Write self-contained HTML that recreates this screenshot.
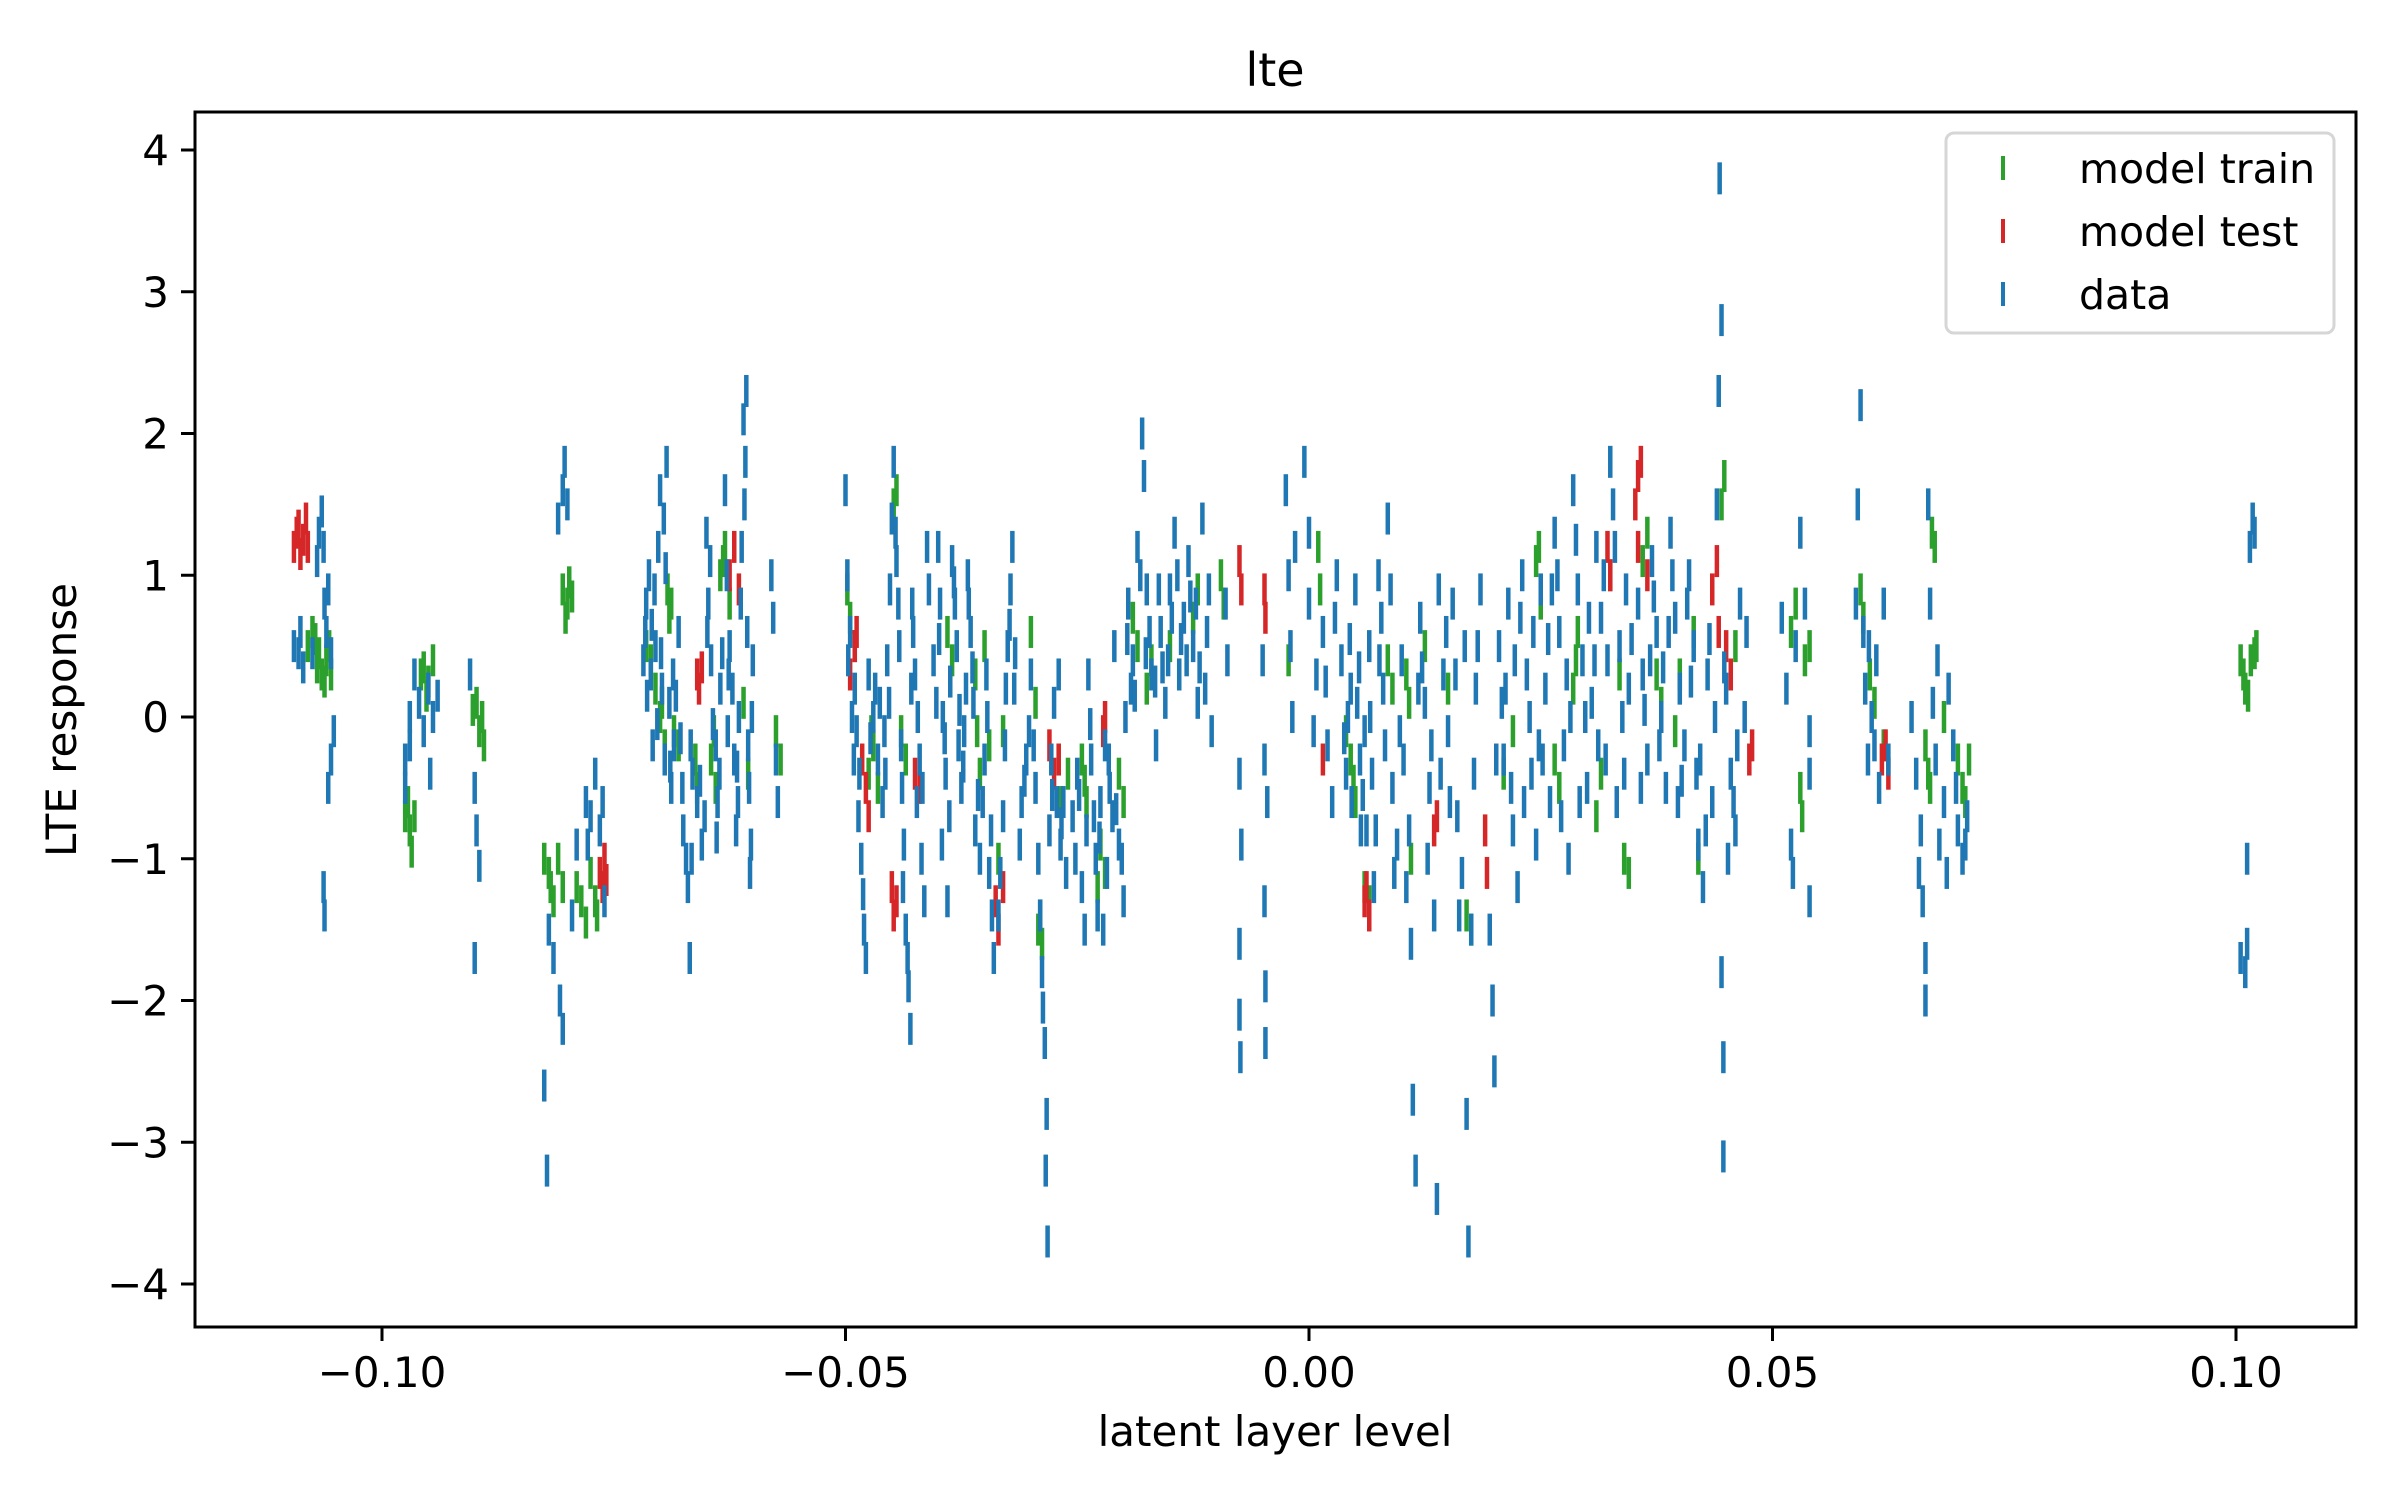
<!DOCTYPE html>
<html><head><meta charset="utf-8"><title>lte</title>
<style>
html,body{margin:0;padding:0;background:#fff;}
svg{display:block;font-family:"DejaVu Sans","Liberation Sans",sans-serif;}
</style></head>
<body>
<svg id="chart" width="2400" height="1500" viewBox="0 0 2400 1500" xmlns="http://www.w3.org/2000/svg">
<rect width="2400" height="1500" fill="#fff"/>
<g id="marks"></g>
<g id="axes"></g>
</svg>
<script>
const xTicks = [-0.10, -0.05, 0.00, 0.05, 0.10];
const xTickLabels = ["\u22120.10", "\u22120.05", "0.00", "0.05", "0.10"];
const yTicks = [4, 3, 2, 1, 0, -1, -2, -3, -4];
const yTickLabels = ["4", "3", "2", "1", "0", "\u22121", "\u22122", "\u22123", "\u22124"];
const seriesNames = ["model train", "model test", "data"];

const trainPoints = [
[-0.108,0.5],[-0.1075,0.6],[-0.107,0.35],[-0.1068,0.45],[-0.1065,0.3],[-0.106,0.4],[-0.1057,0.5],[-0.1055,0.3],[-0.1072,0.55],[-0.1062,0.25],
[-0.0975,-0.7],[-0.097,-0.8],[-0.0968,-0.95],[-0.0965,-0.7],[-0.0958,0.3],[-0.0955,0.35],[-0.095,0.25],[-0.0945,0.4],[-0.0972,-0.6],[-0.0952,0.15],
[-0.0902,0.05],[-0.0898,0.1],[-0.0895,-0.1],[-0.0892,0.0],[-0.089,-0.2],
[-0.0825,-1.0],[-0.082,-1.1],[-0.0815,-1.3],[-0.081,-1.0],[-0.0805,-1.2],[-0.0805,0.9],[-0.08,0.8],[-0.0798,0.95],[-0.0795,0.85],[-0.079,-1.2],[-0.0785,-1.3],[-0.0775,-1.1],[-0.077,-1.3],[-0.0768,-1.4],[-0.0818,-1.2],[-0.0802,0.7],[-0.078,-1.45],
[-0.0715,0.5],[-0.071,0.4],[-0.0705,0.2],[-0.07,0.0],[-0.0695,-0.2],[-0.0692,0.9],[-0.069,0.7],[-0.0685,-0.1],[-0.068,-0.2],[-0.0662,-0.3],[-0.066,-0.5],[-0.0645,-0.3],[-0.064,-0.5],[-0.0635,1.0],[-0.063,1.2],[-0.0625,0.8],[-0.061,0.1],[-0.0605,-0.4],[-0.0575,-0.1],[-0.057,-0.3],[-0.0698,0.1],[-0.0688,0.8],[-0.0642,-0.1],[-0.0632,1.1],
[-0.0498,0.9],[-0.0495,0.7],[-0.049,0.5],[-0.0475,-0.4],[-0.047,-0.2],[-0.0465,-0.5],[-0.0448,1.5],[-0.0445,1.6],[-0.044,-0.1],[-0.0435,-0.3],[-0.0472,-0.1],
[-0.039,0.6],[-0.0385,0.4],[-0.036,0.3],[-0.0358,-0.1],[-0.035,0.5],[-0.0345,-0.2],[-0.0335,-1.0],[-0.033,-0.1],[-0.03,0.6],[-0.0295,0.1],[-0.029,-1.4],[-0.0288,-1.6],[-0.027,-0.3],[-0.0268,-0.6],[-0.026,-0.4],[-0.0355,-0.4],[-0.0292,-1.5],
[-0.0245,-0.3],[-0.024,-0.6],[-0.0225,-0.9],[-0.022,-1.1],[-0.0205,-0.4],[-0.02,-0.6],[-0.019,0.7],[-0.0185,0.5],[-0.0175,0.2],[-0.017,0.4],[-0.015,0.5],[-0.014,0.3],[-0.0125,0.7],[-0.012,0.9],[-0.0095,1.0],[-0.0092,0.8],[-0.0228,-1.2],[-0.0242,-0.45],
[-0.0022,0.4],[0.001,1.2],[0.0012,0.9],
[0.004,-0.1],[0.0045,-0.3],[0.005,-0.6],[0.006,-1.2],[0.0065,-1.3],[0.0085,0.4],[0.009,0.2],[0.0105,0.3],[0.011,-1.0],[0.0125,0.5],[0.015,0.2],[0.017,-1.4],[0.0175,-1.5],[0.0048,-0.45],[0.0108,0.1],
[0.021,-0.4],[0.022,-0.1],[0.0245,1.1],[0.025,0.8],[0.0265,-0.3],[0.027,-0.5],[0.0285,0.2],[0.029,0.6],[0.031,-0.7],[0.0315,-0.4],[0.0325,1.0],[0.0335,0.3],[0.034,-1.0],[0.0345,-1.1],[0.0248,1.2],[0.0288,0.4],
[0.036,1.1],[0.0365,1.3],[0.0375,0.3],[0.038,0.1],[0.0395,-0.1],[0.04,0.3],[0.0415,0.6],[0.042,-1.0],[0.0445,1.5],[0.0448,1.7],[0.046,0.5],
[0.052,0.6],[0.0525,0.8],[0.053,-0.5],[0.0535,0.4],[0.054,0.5],[0.0532,-0.7],
[0.0595,0.9],[0.0598,0.7],[0.0605,0.3],[0.061,0.1],[0.062,-0.2],[0.0665,-0.2],[0.067,-0.5],[0.0672,1.3],[0.0675,1.2],[0.0685,0.0],[0.07,-0.3],[0.0705,-0.5],[0.0712,-0.3],[0.0668,-0.4],[0.0708,-0.6],
[0.1005,0.4],[0.101,0.2],[0.1013,0.15],[0.1016,0.4],[0.102,0.45],[0.1022,0.5],[0.1008,0.3]
];

const testPoints = [
[-0.1095,1.2],[-0.1092,1.3],[-0.109,1.35],[-0.1088,1.15],[-0.1085,1.25],[-0.1082,1.4],[-0.108,1.2],
[-0.0765,-1.1],[-0.0762,-1.2],[-0.076,-1.0],[-0.0758,-1.15],
[-0.066,0.3],[-0.0658,0.2],[-0.0655,0.35],[-0.0625,1.0],[-0.062,1.2],[-0.0615,0.9],
[-0.0495,0.3],[-0.049,0.5],[-0.0488,0.6],[-0.0482,-0.3],[-0.0478,-0.5],[-0.0475,-0.7],[-0.045,-1.2],[-0.0448,-1.4],[-0.0445,-1.3],[-0.0425,-0.4],[-0.042,-0.5],
[-0.0338,-1.3],[-0.0335,-1.5],[-0.033,-1.2],[-0.028,-0.2],[-0.0275,-0.4],[-0.027,-0.3],[-0.0222,-0.1],[-0.022,0.0],
[-0.0075,1.1],[-0.0073,0.9],[-0.0048,0.9],[-0.0047,0.7],
[0.0015,-0.3],[0.006,-1.3],[0.0062,-1.2],[0.0065,-1.4],[0.0135,-0.8],[0.0138,-0.7],[0.019,-0.8],[0.0192,-1.1],
[0.0322,1.2],[0.0325,1.0],[0.0355,1.7],[0.0352,1.5],[0.0358,1.8],
[0.0355,1.2],[0.0365,1.0],[0.0435,0.9],[0.044,1.1],[0.0442,0.6],[0.045,0.5],[0.0455,0.3],[0.0475,-0.3],[0.0478,-0.2],
[0.0622,-0.2],[0.0625,-0.4],[0.0618,-0.3]
];

const dataPoints = [
[-0.1095,0.5],[-0.109,0.45],[-0.1088,0.6],[-0.1085,0.35],[-0.1075,0.45],[-0.107,1.1],[-0.1068,1.3],[-0.1065,1.45],[-0.1063,1.2],[-0.1062,0.8],[-0.106,0.6],[-0.1058,0.9],[-0.1063,-1.2],[-0.1062,-1.4],[-0.1058,-0.5],[-0.1055,-0.3],[-0.1052,-0.1],[-0.1055,0.45],
[-0.0975,-0.3],[-0.0975,-0.5],[-0.097,0.0],[-0.097,-0.2],[-0.0965,0.3],[-0.096,0.1],[-0.0955,-0.1],[-0.095,0.2],[-0.0948,-0.4],[-0.0945,0.0],[-0.094,0.15],
[-0.0905,0.3],[-0.09,-0.5],[-0.0898,-0.8],[-0.0895,-1.05],[-0.09,-1.7],
[-0.0825,-2.6],[-0.0822,-3.2],[-0.082,-1.5],[-0.0815,-1.7],[-0.081,1.4],[-0.0805,1.6],[-0.0803,1.8],[-0.08,1.5],[-0.0808,-2.0],[-0.0805,-2.2],[-0.0795,-1.4],[-0.079,-0.9],[-0.078,-0.6],[-0.0778,-0.9],[-0.0775,-0.7],[-0.077,-0.4],[-0.0765,-0.8],[-0.0762,-0.6],[-0.076,-1.3],
[-0.0718,0.4],[-0.0715,0.8],[-0.0712,1.0],[-0.071,0.3],[-0.0708,-0.2],[-0.0705,0.5],[-0.0702,1.2],[-0.07,1.6],[-0.0698,0.2],[-0.0695,-0.3],[-0.0693,1.8],[-0.069,0.1],[-0.0688,-0.5],[-0.0685,-0.2],[-0.068,0.6],[-0.0675,-0.8],[-0.067,-1.2],[-0.0668,-1.7],[-0.0665,-0.4],[-0.066,-0.6],[-0.0655,-0.9],[-0.065,1.3],[-0.0648,0.8],[-0.0645,0.4],[-0.064,-0.2],[-0.0638,-0.6],[-0.0635,0.2],[-0.063,1.6],[-0.0628,1.0],[-0.0625,0.5],[-0.062,-0.3],[-0.0618,-0.8],[-0.0615,0.0],[-0.0612,1.2],[-0.061,2.1],[-0.0608,1.8],[-0.0605,-0.2],[-0.0603,-1.1],[-0.06,0.4],[-0.058,1.0],[-0.0578,0.7],[-0.0575,-0.3],[-0.0573,-0.6],
[-0.0716,0.6],[-0.0706,0.9],[-0.0696,1.4],[-0.0686,0.3],[-0.0676,-0.5],[-0.0666,-1.0],[-0.0652,-0.7],[-0.0646,1.1],[-0.0636,-0.4],[-0.0626,0.3],[-0.0616,-0.6],[-0.0607,2.3],[-0.0602,-0.9],[-0.0606,0.6],
[-0.0714,0.15],[-0.0709,0.65],[-0.0703,-0.05],[-0.0699,0.45],[-0.0694,1.05],[-0.0689,-0.35],[-0.0683,0.15],[-0.0678,-0.15],[-0.0672,-1.0],[-0.0667,-0.2],[-0.0657,-0.45],[-0.0649,0.6],[-0.0643,-0.05],[-0.0639,-0.85],[-0.0633,0.45],[-0.0627,-0.1],[-0.0622,0.2],[-0.0617,-0.35],[-0.0613,0.8],[-0.0609,1.5],[-0.0604,-0.5],[-0.0601,0.0],
[-0.05,1.6],[-0.0498,1.0],[-0.0495,0.6],[-0.049,0.2],[-0.0488,-0.1],[-0.0485,-0.4],[-0.0483,-1.0],[-0.048,-1.5],[-0.0478,-1.7],[-0.0475,0.3],[-0.047,0.0],[-0.0465,-0.3],[-0.046,-0.6],[-0.0455,0.4],[-0.045,1.4],[-0.0448,1.8],[-0.0445,1.1],[-0.0442,0.5],[-0.044,-0.2],[-0.0438,-1.2],[-0.0435,-1.5],[-0.0432,-1.9],[-0.043,-2.2],[-0.0428,0.8],[-0.0425,0.3],[-0.042,-0.3],[-0.0418,-1.0],[-0.0415,-1.3],
[-0.0493,0.0],[-0.0486,-0.7],[-0.0468,0.2],[-0.0458,-0.1],[-0.0452,0.9],[-0.0446,1.3],[-0.0437,-0.9],[-0.0427,0.6],[-0.0422,0.0],[-0.0412,1.2],[-0.041,0.9],
[-0.0497,0.4],[-0.0491,-0.3],[-0.0481,-1.25],[-0.0473,-0.15],[-0.0463,0.1],[-0.0457,-0.4],[-0.0453,0.1],[-0.0443,0.8],[-0.0439,-0.5],[-0.0433,-1.7],[-0.0429,0.2],[-0.0423,-0.6],[-0.0417,-0.5],
[-0.0405,0.4],[-0.04,1.2],[-0.0398,0.8],[-0.0395,0.0],[-0.0392,-0.4],[-0.039,-1.3],[-0.0388,-0.7],[-0.0385,1.1],[-0.038,0.5],[-0.0378,-0.2],[-0.0375,-0.5],[-0.037,0.2],[-0.0368,1.0],[-0.0365,0.6],[-0.036,-0.8],[-0.0355,-1.0],[-0.035,-0.3],[-0.0348,0.3],[-0.0345,-1.1],[-0.034,-1.7],[-0.0335,-1.4],[-0.033,-0.7],[-0.0328,-0.2],[-0.0325,0.5],[-0.032,1.2],[-0.0318,0.2],[-0.031,-0.6],[-0.0305,-0.3],[-0.03,0.3],[-0.0295,-0.5],[-0.029,-1.4],[-0.0288,-1.8],[-0.0285,-2.3],[-0.0283,-2.8],[-0.0282,-3.7],[-0.028,-0.8],[-0.0278,-0.3],[-0.0275,0.1],[-0.027,0.3],[-0.0268,-0.9],[-0.0265,-0.6],
[-0.0402,0.1],[-0.0396,-0.9],[-0.0382,0.8],[-0.0372,-0.1],[-0.0362,0.1],[-0.0352,-0.6],[-0.0342,-1.4],[-0.0322,0.9],[-0.0312,-0.9],[-0.0302,-0.1],[-0.0292,-1.0],[-0.0284,-3.2],[-0.0272,-0.6],[-0.0262,-1.1],
[-0.0399,0.55],[-0.0393,-0.15],[-0.0387,0.25],[-0.0383,0.95],[-0.0377,0.05],[-0.0373,-0.35],[-0.0367,0.8],[-0.0363,0.35],[-0.0357,-0.55],[-0.0347,0.0],[-0.0343,-0.8],[-0.0333,-1.1],[-0.0327,0.2],[-0.0323,0.65],[-0.0317,0.45],[-0.0307,-0.45],[-0.0297,-0.2],[-0.0287,-2.05],[-0.0277,-0.55],[-0.0267,-0.75],
[-0.0255,-0.7],[-0.025,-0.4],[-0.0245,-1.2],[-0.024,-0.8],[-0.0238,0.3],[-0.0235,-0.3],[-0.023,-1.0],[-0.0228,-1.4],[-0.0225,-0.6],[-0.022,-0.2],[-0.0218,-1.1],[-0.0215,-0.5],[-0.021,0.5],[-0.0205,-0.9],[-0.02,-1.3],[-0.0198,0.0],[-0.0195,0.8],[-0.019,0.4],[-0.0185,1.2],[-0.018,2.0],[-0.0178,1.7],[-0.0175,0.9],[-0.017,0.3],[-0.0165,-0.2],[-0.016,0.6],[-0.0155,0.1],[-0.015,0.9],[-0.0145,1.3],[-0.014,0.3],[-0.0135,0.7],[-0.013,1.1],[-0.0125,0.5],[-0.012,0.1],[-0.0115,1.4],[-0.011,0.6],[-0.0105,-0.1],
[-0.0252,-1.0],[-0.0242,-1.5],[-0.0232,-0.7],[-0.0222,-1.5],[-0.0212,-0.7],[-0.0202,-1.0],[-0.0192,0.2],[-0.0182,1.0],[-0.0172,0.6],[-0.0162,0.9],[-0.0152,0.4],[-0.0142,1.0],[-0.0132,0.4],[-0.0122,0.8],[-0.0112,0.2],
[-0.0248,-0.55],[-0.0236,-0.05],[-0.0226,-0.85],[-0.0216,-0.3],[-0.0208,-0.65],[-0.0196,0.55],[-0.0188,0.15],[-0.0176,0.45],[-0.0166,0.25],[-0.0158,0.35],[-0.0148,0.7],[-0.0138,0.55],[-0.0128,0.85],[-0.0118,0.35],[-0.0108,0.9],
[-0.009,0.8],[-0.0088,0.4],[-0.0075,-0.4],[-0.0073,-0.9],[-0.0075,-1.6],[-0.0075,-2.1],[-0.0074,-2.4],[-0.005,0.4],[-0.0048,-0.3],[-0.0048,-1.3],[-0.0047,-1.9],[-0.0047,-2.3],[-0.0045,-0.6],[-0.0025,1.6],[-0.0022,1.0],[-0.002,0.5],[-0.0018,0.0],[-0.0015,1.2],[-0.0005,1.8],[0.0,1.3],[0.0,0.8],[0.0005,-0.1],[0.0008,0.3],
[0.0015,0.6],[0.002,-0.2],[0.0025,-0.6],[0.003,1.0],[0.0035,0.4],[0.004,-0.4],[0.0045,0.2],[0.005,0.9],[0.0052,0.1],[0.0055,-0.3],[0.006,-0.1],[0.0062,-0.8],[0.0065,0.5],[0.007,-1.2],[0.0075,1.0],[0.008,0.2],[0.0085,1.4],[0.009,-0.5],[0.0095,-0.9],[0.01,0.4],[0.0105,-1.2],[0.011,-1.6],[0.0112,-2.7],[0.0115,-3.2],[0.012,0.7],[0.0125,0.1],[0.013,-0.5],[0.0135,-1.4],[0.0138,-3.4],[0.014,0.9],[0.0145,0.3],[0.015,-0.1],[0.0155,0.8],[0.016,-0.7],[0.0165,-1.1],[0.017,-2.8],[0.0172,-3.7],[0.0175,-1.5],[0.018,0.2],[0.0185,0.9],
[0.0042,0.0],[0.0046,-0.6],[0.0056,-0.8],[0.0066,0.0],[0.0076,0.4],[0.0092,-1.1],[0.0102,-0.3],[0.0118,0.2],[0.0128,-1.0],[0.0142,-0.4],[0.0152,-0.6],[0.0162,-1.4],[0.0168,0.5],[0.0178,-0.4],
[0.0018,0.25],[0.0028,0.7],[0.0038,-0.15],[0.0044,0.55],[0.0054,0.35],[0.0058,-0.55],[0.0068,-0.4],[0.0072,-0.8],[0.0078,0.7],[0.0082,-0.2],[0.0088,0.9],[0.0098,-0.1],[0.0108,-0.8],[0.0122,0.35],[0.0132,-0.2],[0.0148,0.6],[0.0158,0.3],[0.0182,0.5],
[0.0195,-1.5],[0.0198,-2.0],[0.02,-2.5],[0.0205,0.5],[0.021,-0.3],[0.0215,0.8],[0.022,-0.8],[0.0225,-1.2],[0.023,1.0],[0.0235,0.3],[0.024,-0.4],[0.0245,-0.9],[0.025,0.9],[0.0255,0.2],[0.026,-0.6],[0.0265,1.3],[0.027,0.6],[0.0275,-0.2],[0.028,-1.0],[0.0285,1.6],[0.029,0.9],[0.0295,0.4],[0.03,-0.5],[0.0305,0.1],[0.031,1.2],[0.0315,0.7],[0.032,-0.3],[0.0325,1.8],[0.033,1.2],[0.0335,0.5],[0.034,-0.4],[0.0345,0.2],
[0.0202,-0.3],[0.0212,0.2],[0.0222,0.4],[0.0232,-0.6],[0.0242,0.6],[0.0252,-0.3],[0.0262,0.9],[0.0272,-0.7],[0.0282,0.0],[0.0292,-0.6],[0.0302,0.7],[0.0312,-0.2],[0.0322,0.4],[0.0332,-0.6],[0.0342,0.9],
[0.0208,0.1],[0.0218,-0.5],[0.0228,0.7],[0.0238,0.0],[0.0248,-0.2],[0.0258,0.55],[0.0268,1.0],[0.0278,0.3],[0.0288,1.25],[0.0298,0.0],[0.0308,0.4],[0.0318,1.0],[0.0328,1.5],[0.0338,0.0],[0.0348,0.55],
[0.0355,0.8],[0.036,0.3],[0.0365,-0.3],[0.037,1.1],[0.0375,0.6],[0.038,0.0],[0.0385,-0.5],[0.039,1.3],[0.0395,0.7],[0.04,0.2],[0.0405,-0.2],[0.041,1.0],[0.0415,0.5],[0.042,-0.9],[0.0425,-1.2],[0.043,0.3],[0.0435,-0.6],[0.044,1.5],[0.0442,2.3],[0.0445,2.8],[0.0443,3.8],[0.0445,-1.8],[0.0447,-2.4],[0.0447,-3.1],[0.045,0.2],[0.0455,-0.4],[0.046,-0.8],[0.0465,0.8],[0.047,0.0],
[0.0358,-0.5],[0.0368,0.4],[0.0378,-0.2],[0.0388,0.6],[0.0398,-0.6],[0.0408,0.8],[0.0418,-0.4],[0.0428,-0.8],[0.0438,0.0],[0.0452,-1.0],[0.0462,-0.2],[0.0472,0.6],
[0.0362,0.05],[0.0372,0.85],[0.0382,0.35],[0.0392,1.0],[0.0402,-0.45],[0.0412,0.25],[0.0422,-0.3],[0.0432,0.55],[0.0448,0.35],[0.0458,-0.6],
[0.051,0.7],[0.0515,0.2],[0.052,-0.9],[0.0522,-1.1],[0.0525,0.5],[0.053,1.3],[0.0535,0.8],[0.054,-0.1],[0.054,-0.4],[0.054,-1.3],
[0.059,0.8],[0.0592,1.5],[0.0595,2.2],[0.0598,0.6],[0.06,0.2],[0.0603,-0.3],[0.0607,0.0],[0.061,-0.2],[0.0612,0.4],[0.0615,-0.5],[0.062,0.8],[0.0625,-0.3],[0.065,0.0],[0.0655,-0.4],[0.066,-0.8],[0.0662,-1.3],[0.0665,-1.7],[0.0665,-2.0],[0.0668,1.5],[0.067,0.8],[0.0673,0.1],[0.0676,-0.3],[0.068,-0.9],[0.0685,-0.6],[0.069,0.2],[0.0695,-0.2],[0.07,-0.8],[0.0705,-1.0],[0.071,-0.7],
[0.0604,0.5],[0.0658,-1.1],[0.0678,0.4],[0.0688,-1.1],[0.0698,-0.5],[0.0708,-0.9],
[0.1005,-1.7],[0.101,-1.8],[0.1012,-1.6],[0.1012,-1.0],[0.1015,1.2],[0.1018,1.4],[0.102,1.3]
];

const NS = "http://www.w3.org/2000/svg";
const AX = {left:195, right:2356, top:112, bottom:1327};
function xScale(v){ return 1309 + v * 9270; }
function yScale(v){ return 717 - v * 141.75; }
function mk(tag, attrs, parent){ const e=document.createElementNS(NS,tag); for(const k in attrs) e.setAttribute(k,attrs[k]); parent.appendChild(e); return e; }

const marks = document.getElementById('marks');
const axes = document.getElementById('axes');
const MH = 16;
function drawSeries(points, color, name){
  const g = mk('g', {}, marks);
  
  
  points.forEach(p => {
    const x = xScale(p[0]), y = yScale(p[1]);
    const l = mk('line', {x1:x, x2:x, y1:y-MH, y2:y+MH, stroke:color, 'stroke-width':4.5}, g);
    
    
  });
}
drawSeries(trainPoints, '#2ca02c', 'model-train');
drawSeries(testPoints, '#d62728', 'model-test');
drawSeries(dataPoints, '#1f77b4', 'data');

const frame = mk('rect', {x:AX.left, y:AX.top, width:AX.right-AX.left, height:AX.bottom-AX.top, fill:'none', stroke:'#000', 'stroke-width':3}, axes);



xTicks.forEach((v,i) => {
  const x = xScale(v);
  const t = mk('line', {x1:x, x2:x, y1:AX.bottom, y2:AX.bottom+14, stroke:'#000', 'stroke-width':3}, axes);
  
  
  const lb = mk('text', {x:x, y:AX.bottom+60, 'font-size':42, 'text-anchor':'middle', fill:'#000'}, axes);
  lb.textContent = xTickLabels[i];
  
  
});
yTicks.forEach((v,i) => {
  const y = yScale(v);
  const t = mk('line', {x1:AX.left-14, x2:AX.left, y1:y, y2:y, stroke:'#000', 'stroke-width':3}, axes);
  
  
  const lb = mk('text', {x:AX.left-26, y:y+15, 'font-size':42, 'text-anchor':'end', fill:'#000'}, axes);
  lb.textContent = yTickLabels[i];
  
  
});

const title = mk('text', {x:1275, y:86, 'font-size':46, 'text-anchor':'middle', fill:'#000'}, axes);
title.textContent = 'lte';


const xl = mk('text', {x:1275, y:1446, 'font-size':42, 'text-anchor':'middle', fill:'#000'}, axes);
xl.textContent = 'latent layer level';


const yl = mk('text', {x:0, y:0, 'font-size':42, 'text-anchor':'middle', fill:'#000', transform:'translate(76,720) rotate(-90)'}, axes);
yl.textContent = 'LTE response';



const lg = mk('g', {}, axes);


mk('rect', {x:1946, y:133, width:388, height:200, rx:8, fill:'#fff', 'fill-opacity':0.8, stroke:'#d6d6d6', 'stroke-width':3}, lg);
const legColors = ['#2ca02c', '#d62728', '#1f77b4'];
seriesNames.forEach((n,i) => {
  const cy = 168 + i*63;
  const e = mk('g', {}, lg);
  
  
  mk('line', {x1:2003, x2:2003, y1:cy-12, y2:cy+12, stroke:legColors[i], 'stroke-width':4}, e);
  const t = mk('text', {x:2079, y:cy+15, 'font-size':41, fill:'#000'}, e);
  t.textContent = n;
});
</script>
</body></html>
